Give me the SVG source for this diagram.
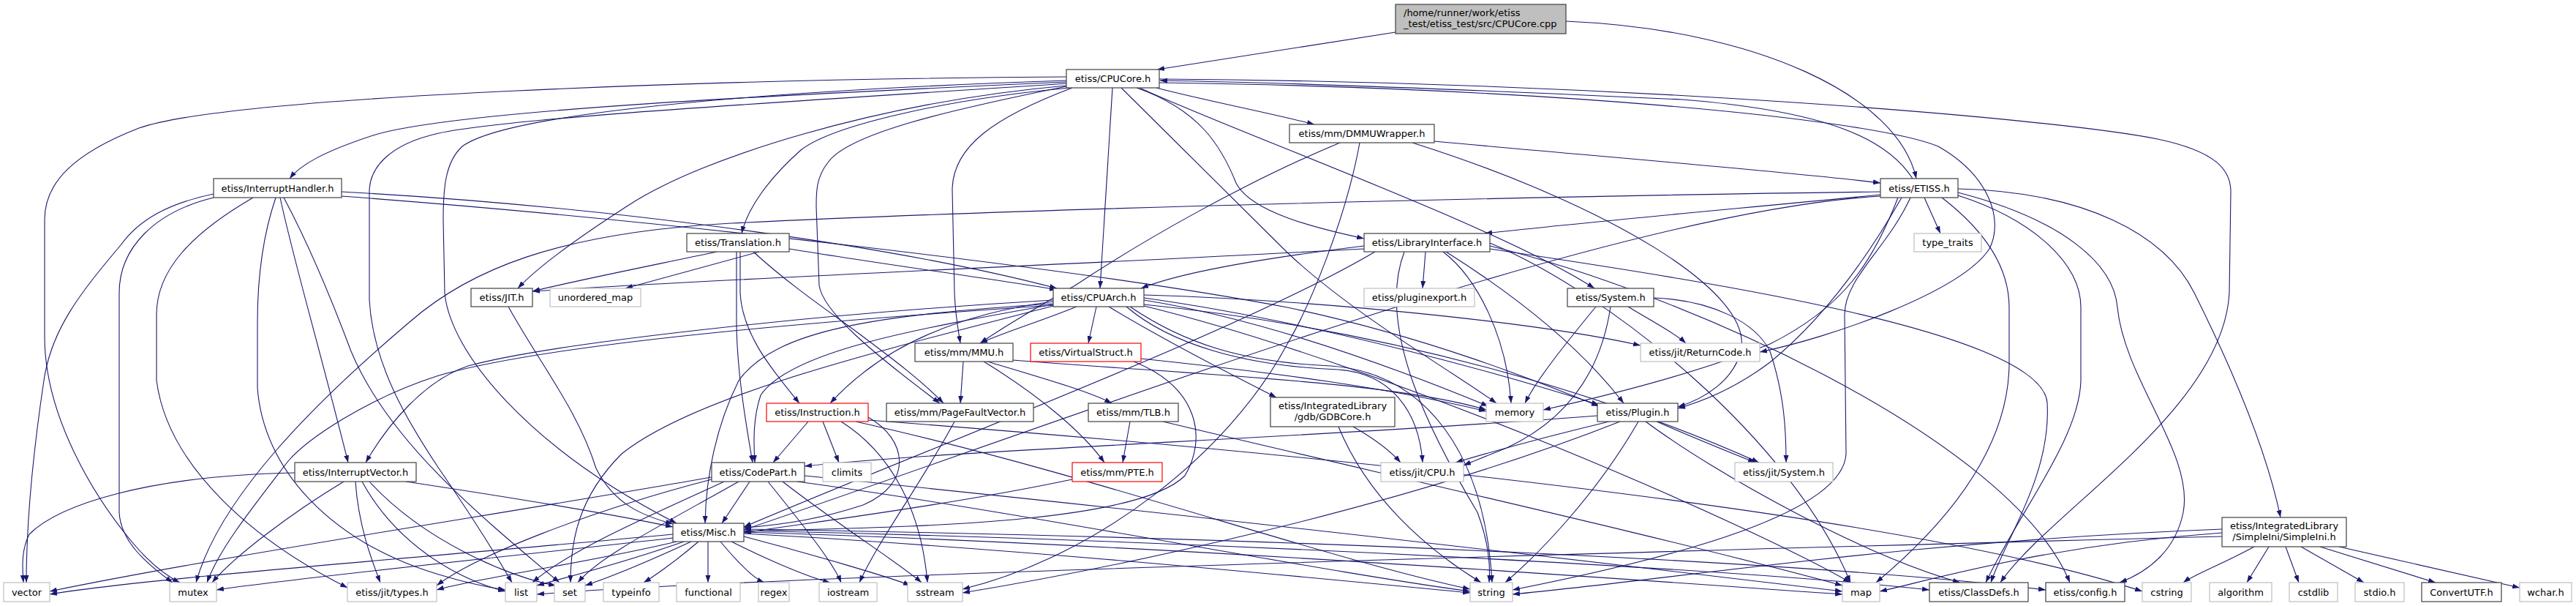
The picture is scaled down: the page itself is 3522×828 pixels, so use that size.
<svg xmlns="http://www.w3.org/2000/svg" width="3522" height="828" viewBox="0 0 3522 828">
<style>
.e{fill:none;stroke:#191970;stroke-width:1.1;marker-end:url(#a)}
.n rect{fill:#fff;stroke:#404040;stroke-width:1.2}
.x rect{stroke:#bfbfbf}
.r rect{stroke:#ff0000}
.root rect{fill:#bfbfbf}
text{font-family:"DejaVu Sans","Liberation Sans",sans-serif;font-size:13px;fill:#000;text-anchor:middle}
.l{text-anchor:start}
</style>
<defs>
<marker id="a" markerWidth="10" markerHeight="8" refX="10" refY="4" orient="auto" markerUnits="userSpaceOnUse" viewBox="0 0 10 8"><path d="M0,0.5 L10,4 L0,7.5 z" fill="#191970"/></marker>
</defs>
<rect width="3522" height="828" fill="#fff"/>
<g id="edges">
<path class="e" d="M1908,44 L1582,95"/>
<path class="e" d="M2141,29 C2400,40 2595,130 2620,244"/>
<path class="e" d="M1458,112 C1100,128 620,150 510,185 C440,208 410,226 396,244"/>
<path class="e" d="M1458,105 C1000,108 320,130 190,175 C100,210 61,250 61,300 L61,460 C61,570 130,680 180,740 C205,770 226,786 246,796"/>
<path class="e" d="M1458,117 C1200,140 960,215 860,280 C790,325 735,365 708,394"/>
<path class="e" d="M1463,120 C1300,135 1140,170 1095,205 C1050,245 1022,285 1014,319"/>
<path class="e" d="M1521,120 L1504,394"/>
<path class="e" d="M1581,120 C1650,138 1740,155 1797,170"/>
<path class="e" d="M1554,120 C1640,150 1670,200 1690,250 C1710,290 1800,312 1865,326"/>
<path class="e" d="M1558,120 C1700,185 2050,310 2180,394"/>
<path class="e" d="M1466,120 C1360,160 1302,200 1302,260 L1305,400 C1306,430 1310,450 1313,469"/>
<path class="e" d="M1533,120 L1760,345 C1850,430 1990,510 2046,551"/>
<path class="e" d="M1458,110 C1100,122 700,150 632,200 C608,222 606,260 606,300 L608,400 C615,480 720,610 925,715"/>
<path class="e" d="M1458,114 C1100,138 700,160 600,182 C528,198 505,232 505,262 L505,410 C510,500 560,580 600,640 C645,705 682,765 700,796"/>
<path class="e" d="M1458,118 C1300,150 1160,182 1132,222 C1116,242 1116,262 1116,282 L1120,390 C1125,425 1190,480 1285,551"/>
<path class="e" d="M1585,108 C2200,112 2800,160 2950,190 C3030,207 3050,232 3050,262 L3048,400 C3040,560 2800,700 2735,796"/>
<path class="e" d="M1585,113 C2100,120 2550,160 2650,200 C2720,240 2740,300 2720,340 C2680,400 2500,462 2406,481"/>
<path class="e" d="M2615,244 C2580,190 2500,152 2300,136 C2000,122 1760,113 1586,110"/>
<path class="e" d="M2571,266 C2400,283 2200,300 2030,319"/>
<path class="e" d="M2631,270 L2653,319"/>
<path class="e" d="M2677,258 C2850,262 2960,320 3000,400 C3060,520 3100,620 3118,707"/>
<path class="e" d="M2677,263 C2820,300 2890,360 2895,420 C2905,520 3000,620 2985,700 C2975,750 2940,780 2898,796"/>
<path class="e" d="M2677,267 C2780,300 2845,360 2845,420 L2845,520 C2843,600 2760,700 2715,796"/>
<path class="e" d="M2655,270 C2720,320 2747,370 2747,420 L2747,500 C2745,600 2680,700 2565,796"/>
<path class="e" d="M2612,270 C2580,340 2522,380 2522,430 L2524,620 C2520,700 2300,760 2068,806"/>
<path class="e" d="M2600,270 C2560,340 2500,430 2420,495 C2380,525 2340,545 2294,558"/>
<path class="e" d="M2595,270 C2560,360 2520,420 2420,470 C2320,510 2200,540 2110,560"/>
<path class="e" d="M2571,268 C2200,290 1500,560 1017,724"/>
<path class="e" d="M2571,262 C2100,268 1400,285 1000,305 C760,318 640,370 560,440 C430,550 300,680 268,796"/>
<path class="e" d="M292,265 C230,278 190,300 165,335 C110,400 70,450 60,520 C45,620 36,720 36,796"/>
<path class="e" d="M292,270 C210,290 163,340 163,400 L163,700 C165,740 200,770 236,796"/>
<path class="e" d="M346,270 C260,320 214,370 214,430 L214,520 C230,640 350,740 475,803"/>
<path class="e" d="M383,270 C400,350 430,450 476,632"/>
<path class="e" d="M377,270 C360,320 352,380 352,440 L352,530 C360,640 450,740 600,785 C640,797 670,803 691,806"/>
<path class="e" d="M388,270 C420,330 450,400 480,480 C530,600 650,700 765,796"/>
<path class="e" d="M467,262 C800,280 1200,330 1445,394"/>
<path class="e" d="M467,268 C900,300 1500,370 1760,420 C1950,460 2100,520 2186,555"/>
<path class="e" d="M980,344 C880,365 780,385 728,398"/>
<path class="e" d="M1038,344 C960,365 890,385 855,394"/>
<path class="e" d="M1007,344 L1007,430 C1006,500 1020,580 1029,632"/>
<path class="e" d="M1012,344 L1012,400 C1015,460 1060,510 1093,551"/>
<path class="e" d="M1079,340 C1200,360 1350,380 1445,396"/>
<path class="e" d="M1030,344 C1080,390 1140,430 1180,460 C1220,490 1260,520 1290,551"/>
<path class="e" d="M695,419 C740,500 790,560 815,640 C840,690 880,705 920,716"/>
<path class="e" d="M1472,419 C1420,440 1370,455 1340,469"/>
<path class="e" d="M1499,419 L1488,469"/>
<path class="e" d="M1440,412 C1300,430 1200,480 1135,551"/>
<path class="e" d="M1440,416 C1250,450 1080,480 1040,540 C1030,570 1030,600 1032,632"/>
<path class="e" d="M1516,419 C1600,470 1700,520 1745,543"/>
<path class="e" d="M1564,403 C1800,410 2100,440 2243,472"/>
<path class="e" d="M1564,407 C1800,440 2050,510 2186,553"/>
<path class="e" d="M1564,410 C1750,440 1950,520 2035,555"/>
<path class="e" d="M1540,419 C1600,470 1700,500 1830,505 C1900,510 1940,560 1945,632"/>
<path class="e" d="M1564,416 C1900,450 2200,540 2405,632"/>
<path class="e" d="M1545,419 C1620,470 1700,495 1820,500 C1950,510 2030,620 2040,796"/>
<path class="e" d="M1440,418 C1200,480 950,540 850,620 C790,680 780,740 780,796"/>
<path class="e" d="M1564,418 C1900,500 2400,720 2530,796"/>
<path class="e" d="M1440,417 C1100,440 750,470 600,513 C500,545 420,600 394,630 C340,700 300,750 283,796"/>
<path class="e" d="M1440,410 C1100,430 750,470 640,500 C580,520 530,580 500,632"/>
<path class="e" d="M1440,415 C1200,430 1060,450 1010,520 C980,580 965,650 964,715"/>
<path class="e" d="M1832,195 C1700,250 1560,330 1470,390 C1400,430 1360,455 1340,469"/>
<path class="e" d="M1961,193 C2200,215 2450,235 2571,250"/>
<path class="e" d="M1859,195 C1840,300 1790,420 1760,470 C1680,620 1500,760 1316,805"/>
<path class="e" d="M1931,195 C2200,280 2400,400 2380,480 C2370,520 2330,545 2294,556"/>
<path class="e" d="M1949,344 L1945,394"/>
<path class="e" d="M1973,344 C2020,380 2060,460 2066,551"/>
<path class="e" d="M1977,344 C2050,390 2150,460 2220,551"/>
<path class="e" d="M1865,336 C1750,350 1620,370 1560,394"/>
<path class="e" d="M1865,340 C1500,360 1000,380 728,398"/>
<path class="e" d="M1880,344 C1700,450 1300,600 1017,720"/>
<path class="e" d="M2037,332 C2200,400 2450,600 2530,796"/>
<path class="e" d="M2037,336 C2300,400 2750,600 2830,796"/>
<path class="e" d="M2037,340 C2300,380 2790,450 2799,550 C2805,650 2740,740 2722,796"/>
<path class="e" d="M1920,344 C1880,450 1960,600 2020,700 C2035,740 2038,770 2036,796"/>
<path class="e" d="M2226,419 C2260,440 2290,455 2305,469"/>
<path class="e" d="M2182,419 C2140,470 2100,520 2085,551"/>
<path class="e" d="M2202,419 C2190,500 2150,570 2060,612 C2030,624 2015,630 2001,636"/>
<path class="e" d="M2261,407 C2340,410 2400,440 2420,480 C2440,540 2442,590 2442,632"/>
<path class="e" d="M1317,494 L1313,551"/>
<path class="e" d="M1350,494 C1420,515 1490,535 1520,551"/>
<path class="e" d="M1345,494 C1420,540 1480,590 1510,632"/>
<path class="e" d="M1385,492 C1600,510 1900,520 2032,560"/>
<path class="e" d="M1550,494 C1640,530 1650,600 1620,650 C1550,720 1200,720 1017,726"/>
<path class="e" d="M1560,490 C1750,510 1900,530 2032,562"/>
<path class="e" d="M1105,576 L1057,632"/>
<path class="e" d="M1125,576 L1147,632"/>
<path class="e" d="M1187,570 C1240,600 1250,660 1180,690 C1120,710 1060,718 1017,721"/>
<path class="e" d="M1150,576 C1220,620 1260,700 1268,796"/>
<path class="e" d="M1170,576 C1500,650 1800,760 2010,805"/>
<path class="e" d="M1187,574 C1800,620 2600,700 2929,808"/>
<path class="e" d="M1305,576 C1260,660 1200,740 1175,796"/>
<path class="e" d="M1545,576 L1535,632"/>
<path class="e" d="M1590,576 C1900,650 2300,740 2519,800"/>
<path class="e" d="M1466,655 C1300,690 1100,715 1017,728"/>
<path class="e" d="M1850,583 C1880,600 1900,615 1915,632"/>
<path class="e" d="M1830,583 C1870,680 1950,750 2025,796"/>
<path class="e" d="M2200,576 C2100,600 2030,620 1990,632"/>
<path class="e" d="M2240,576 C2180,680 2100,760 2058,796"/>
<path class="e" d="M2184,568 C1800,598 1300,615 1100,637"/>
<path class="e" d="M2215,576 C1900,700 1500,780 1316,810"/>
<path class="e" d="M2265,576 C2320,600 2370,620 2400,632"/>
<path class="e" d="M2250,576 C2350,650 2550,760 2680,796"/>
<path class="e" d="M1025,658 L987,715"/>
<path class="e" d="M973,652 C700,700 300,760 68,808"/>
<path class="e" d="M990,658 C900,700 780,750 728,796"/>
<path class="e" d="M1010,658 C900,720 820,760 790,796"/>
<path class="e" d="M973,655 C800,700 650,760 597,800"/>
<path class="e" d="M1050,658 C1100,720 1140,770 1150,796"/>
<path class="e" d="M1070,658 C1150,720 1230,770 1260,796"/>
<path class="e" d="M1090,658 C1400,700 1800,780 2010,808"/>
<path class="e" d="M1100,650 C1600,700 2200,770 2519,808"/>
<path class="e" d="M403,646 C200,650 80,690 40,730 C30,750 30,770 32,796"/>
<path class="e" d="M470,658 C400,700 320,760 290,796"/>
<path class="e" d="M486,658 C490,720 510,770 520,796"/>
<path class="e" d="M495,658 C540,740 620,790 691,808"/>
<path class="e" d="M505,658 C580,740 700,790 760,800"/>
<path class="e" d="M555,658 C700,680 850,705 920,720"/>
<path class="e" d="M920,730 C600,760 200,790 68,812"/>
<path class="e" d="M920,735 C700,760 400,790 296,806"/>
<path class="e" d="M925,740 C800,770 650,790 597,806"/>
<path class="e" d="M935,740 C850,770 770,790 734,800"/>
<path class="e" d="M945,740 C880,770 830,790 800,800"/>
<path class="e" d="M955,740 C920,770 890,790 880,796"/>
<path class="e" d="M968,740 L968,796"/>
<path class="e" d="M985,740 C1010,770 1030,790 1045,796"/>
<path class="e" d="M1000,740 C1060,770 1110,790 1135,796"/>
<path class="e" d="M1017,733 C1120,760 1220,790 1245,800"/>
<path class="e" d="M1017,729 C1400,750 1800,790 2010,810"/>
<path class="e" d="M1017,727 C1600,745 2200,790 2519,812"/>
<path class="e" d="M1017,725 C1700,740 2400,780 2638,806"/>
<path class="e" d="M1017,723 C1800,735 2500,770 2797,806"/>
<path class="e" d="M3082,747 C3040,770 3000,785 2985,796"/>
<path class="e" d="M3102,747 L3072,796"/>
<path class="e" d="M3125,747 L3143,796"/>
<path class="e" d="M3146,747 L3232,796"/>
<path class="e" d="M3172,747 L3330,796"/>
<path class="e" d="M3198,747 L3445,803"/>
<path class="e" d="M3038,723 C2600,740 2300,790 2068,812"/>
<path class="e" d="M3038,728 C2800,745 2650,790 2570,808"/>
<path class="e" d="M3038,733 C2000,760 1000,790 734,812"/>
</g>
<g id="n_root" class="n root"><rect x="1908" y="6" width="233" height="40"/><text class="l" x="1919" y="21.5">/home/runner/work/etiss</text><text class="l" x="1919" y="36.5">_test/etiss_test/src/CPUCore.cpp</text></g>
<g id="n_cpucore" class="n"><rect x="1458" y="95" width="127" height="25"/><text x="1521.5" y="112">etiss/CPUCore.h</text></g>
<g id="n_dmmu" class="n"><rect x="1763" y="170" width="198" height="25"/><text x="1862" y="187">etiss/mm/DMMUWrapper.h</text></g>
<g id="n_ih" class="n"><rect x="292" y="244" width="175" height="26"/><text x="379.5" y="261.6">etiss/InterruptHandler.h</text></g>
<g id="n_etiss" class="n"><rect x="2571" y="244" width="106" height="26"/><text x="2624" y="261.6">etiss/ETISS.h</text></g>
<g id="n_tr" class="n"><rect x="939" y="319" width="140" height="25"/><text x="1009" y="336">etiss/Translation.h</text></g>
<g id="n_li" class="n"><rect x="1865" y="319" width="172" height="25"/><text x="1951" y="336">etiss/LibraryInterface.h</text></g>
<g id="n_tt" class="n x"><rect x="2617" y="319" width="92" height="25"/><text x="2663" y="336">type_traits</text></g>
<g id="n_jit" class="n"><rect x="644" y="394" width="84" height="25"/><text x="686" y="411">etiss/JIT.h</text></g>
<g id="n_umap" class="n x"><rect x="752" y="394" width="124" height="25"/><text x="814" y="411">unordered_map</text></g>
<g id="n_ca" class="n"><rect x="1440" y="394" width="124" height="25"/><text x="1502" y="411">etiss/CPUArch.h</text></g>
<g id="n_pe" class="n x"><rect x="1865" y="394" width="151" height="25"/><text x="1940.5" y="411">etiss/pluginexport.h</text></g>
<g id="n_sys" class="n"><rect x="2143" y="394" width="118" height="25"/><text x="2202" y="411">etiss/System.h</text></g>
<g id="n_mmu" class="n"><rect x="1251" y="469" width="134" height="25"/><text x="1318" y="486">etiss/mm/MMU.h</text></g>
<g id="n_vs" class="n r"><rect x="1409" y="469" width="151" height="25"/><text x="1484.5" y="486">etiss/VirtualStruct.h</text></g>
<g id="n_rc" class="n x"><rect x="2243" y="469" width="163" height="25"/><text x="2324.5" y="486">etiss/jit/ReturnCode.h</text></g>
<g id="n_in" class="n r"><rect x="1048" y="551" width="139" height="25"/><text x="1117.5" y="568">etiss/Instruction.h</text></g>
<g id="n_pf" class="n"><rect x="1212" y="551" width="201" height="25"/><text x="1312.5" y="568">etiss/mm/PageFaultVector.h</text></g>
<g id="n_tlb" class="n"><rect x="1488" y="551" width="123" height="25"/><text x="1549.5" y="568">etiss/mm/TLB.h</text></g>
<g id="n_gdb" class="n"><rect x="1737" y="543" width="170" height="40"/><text x="1822" y="558.5">etiss/IntegratedLibrary</text><text x="1822" y="573.5">/gdb/GDBCore.h</text></g>
<g id="n_mem" class="n x"><rect x="2032" y="551" width="78" height="25"/><text x="2071" y="568">memory</text></g>
<g id="n_pl" class="n"><rect x="2184" y="551" width="110" height="25"/><text x="2239" y="568">etiss/Plugin.h</text></g>
<g id="n_iv" class="n"><rect x="403" y="632" width="166" height="26"/><text x="486" y="649.6">etiss/InterruptVector.h</text></g>
<g id="n_cp" class="n"><rect x="973" y="632" width="127" height="26"/><text x="1036.5" y="649.6">etiss/CodePart.h</text></g>
<g id="n_cl" class="n x"><rect x="1125" y="632" width="66" height="26"/><text x="1158" y="649.6">climits</text></g>
<g id="n_pte" class="n r"><rect x="1466" y="632" width="123" height="26"/><text x="1527.5" y="649.6">etiss/mm/PTE.h</text></g>
<g id="n_jcpu" class="n x"><rect x="1888" y="632" width="113" height="26"/><text x="1944.5" y="649.6">etiss/jit/CPU.h</text></g>
<g id="n_jsys" class="n x"><rect x="2372" y="632" width="134" height="26"/><text x="2439" y="649.6">etiss/jit/System.h</text></g>
<g id="n_misc" class="n"><rect x="920" y="715" width="97" height="25"/><text x="968.5" y="732">etiss/Misc.h</text></g>
<g id="n_si" class="n"><rect x="3038" y="707" width="170" height="40"/><text x="3123" y="723">etiss/IntegratedLibrary</text><text x="3123" y="738">/SimpleIni/SimpleIni.h</text></g>
<g id="n_vector" class="n x"><rect x="5" y="796" width="63" height="26"/><text x="36.5" y="813.6">vector</text></g>
<g id="n_mutex" class="n x"><rect x="232" y="796" width="64" height="26"/><text x="264" y="813.6">mutex</text></g>
<g id="n_types" class="n x"><rect x="475" y="796" width="122" height="26"/><text x="536" y="813.6">etiss/jit/types.h</text></g>
<g id="n_list" class="n x"><rect x="691" y="796" width="43" height="26"/><text x="712.5" y="813.6">list</text></g>
<g id="n_set" class="n x"><rect x="758" y="796" width="42" height="26"/><text x="779" y="813.6">set</text></g>
<g id="n_typeinfo" class="n x"><rect x="825" y="796" width="76" height="26"/><text x="863" y="813.6">typeinfo</text></g>
<g id="n_functional" class="n x"><rect x="925" y="796" width="87" height="26"/><text x="968.5" y="813.6">functional</text></g>
<g id="n_regex" class="n x"><rect x="1037" y="796" width="42" height="26"/><text x="1058" y="813.6">regex</text></g>
<g id="n_iostream" class="n x"><rect x="1120" y="796" width="79" height="26"/><text x="1159.5" y="813.6">iostream</text></g>
<g id="n_sstream" class="n x"><rect x="1241" y="796" width="75" height="26"/><text x="1278.5" y="813.6">sstream</text></g>
<g id="n_string" class="n x"><rect x="2010" y="796" width="58" height="26"/><text x="2039" y="813.6">string</text></g>
<g id="n_map" class="n x"><rect x="2519" y="796" width="51" height="26"/><text x="2544.5" y="813.6">map</text></g>
<g id="n_classdefs" class="n"><rect x="2638" y="796" width="135" height="26"/><text x="2705.5" y="813.6">etiss/ClassDefs.h</text></g>
<g id="n_config" class="n"><rect x="2797" y="796" width="108" height="26"/><text x="2851" y="813.6">etiss/config.h</text></g>
<g id="n_cstring" class="n x"><rect x="2929" y="796" width="67" height="26"/><text x="2962.5" y="813.6">cstring</text></g>
<g id="n_algorithm" class="n x"><rect x="3021" y="796" width="85" height="26"/><text x="3063.5" y="813.6">algorithm</text></g>
<g id="n_cstdlib" class="n x"><rect x="3130" y="796" width="66" height="26"/><text x="3163" y="813.6">cstdlib</text></g>
<g id="n_stdio" class="n x"><rect x="3220" y="796" width="67" height="26"/><text x="3253.5" y="813.6">stdio.h</text></g>
<g id="n_convertutf" class="n"><rect x="3311" y="796" width="109" height="26"/><text x="3365.5" y="813.6">ConvertUTF.h</text></g>
<g id="n_wchar" class="n x"><rect x="3445" y="796" width="71" height="26"/><text x="3480.5" y="813.6">wchar.h</text></g>
</svg>
